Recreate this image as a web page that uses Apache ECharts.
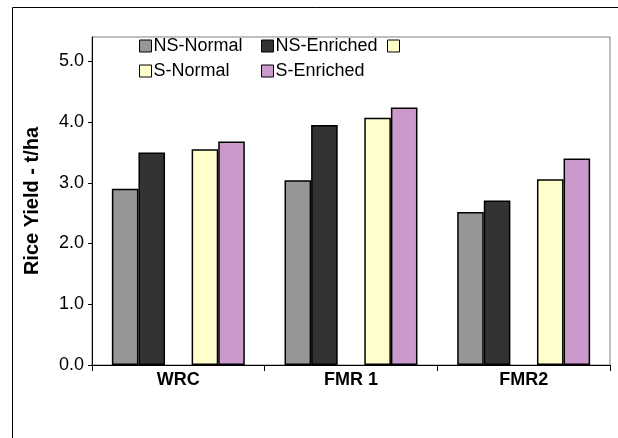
<!DOCTYPE html>
<html>
<head>
<meta charset="utf-8">
<script src="https://cdn.jsdelivr.net/npm/echarts@6/dist/echarts.min.js"></script>
<style>
  html, body { margin: 0; padding: 0; background: #fff; }
  #chart { width: 618px; height: 438px; }
</style>
</head>
<body>
<div id="chart"></div>
<script>
// data
const categories = ['WRC', 'FMR 1', 'FMR2']
const nsNormal = [2.9, 3.04, 2.52]
const nsEnriched = [3.5, 3.95, 2.71]
const blank = [null, null, null]   // empty series: keeps the gap between pairs
const sNormal = [3.55, 4.07, 3.06]
const sEnriched = [3.68, 4.24, 3.4]
const yTicks = [0, 1, 2, 3, 4, 5]

const font = 'Liberation Sans, Arial, sans-serif'

function bar(name, data, color) {
    return {
        name: name,
        type: 'bar',
        data: data,
        barGap: '0%',
        barCategoryGap: '23%',
        itemStyle: { color: color, borderColor: '#000', borderWidth: 1.5 }
    }
}

function legendBox(left, top, names) {
    return {
        orient: 'vertical',
        left: left,
        top: top,
        itemGap: 7,
        itemWidth: 12,
        itemHeight: 12,
        icon: 'rect',
        selectedMode: false,
        itemStyle: { borderColor: '#000', borderWidth: 1 },
        textStyle: { fontFamily: font, fontSize: 18, color: '#000', padding: [0, 0, 0, -3] },
        data: names
    }
}

const chart = echarts.init(document.getElementById('chart'))
chart.setOption({
    animation: false,
    graphic: [{
        type: 'rect',
        shape: { x: 12.5, y: 7.5, width: 640, height: 460 },
        style: { fill: 'none', stroke: '#000', lineWidth: 1 },
        z: -1
    }],
    legend: [
        legendBox(134, 32, ['NS-Normal', 'S-Normal']),
        legendBox(256, 32, ['NS-Enriched', 'S-Enriched']),
        legendBox(382, 32, [' '])
    ],
    grid: {
        left: 92, top: 37, right: 8, bottom: 73,
        show: true, borderColor: '#808080', borderWidth: 1
    },
    xAxis: {
        type: 'category',
        data: categories,
        axisLine: { lineStyle: { color: '#000', width: 1 } },
        axisTick: { show: true, length: 6, lineStyle: { color: '#000' } },
        axisLabel: { margin: 6, fontFamily: font, fontSize: 18, fontWeight: 'bold', color: '#000' }
    },
    yAxis: {
        type: 'value',
        min: 0,
        max: 5.4,
        interval: 1,
        name: 'Rice Yield - t/ha',
        nameLocation: 'middle',
        nameGap: 50,
        nameTextStyle: { fontFamily: font, fontSize: 20, fontWeight: 'bold', color: '#000' },
        splitLine: { show: false },
        axisLine: { show: true, lineStyle: { color: '#000', width: 1 } },
        axisTick: { show: true, length: 4, customValues: yTicks, lineStyle: { color: '#000' } },
        axisLabel: {
            customValues: yTicks,
            margin: 8,
            fontFamily: font, fontSize: 18, color: '#000',
            formatter: v => v.toFixed(1)
        }
    },
    series: [
        bar('NS-Normal', nsNormal, '#969696'),
        bar('NS-Enriched', nsEnriched, '#333333'),
        bar(' ', blank, '#FFFFCC'),
        bar('S-Normal', sNormal, '#FFFFCC'),
        bar('S-Enriched', sEnriched, '#CC99CC')
    ]
})
</script>
</body>
</html>
